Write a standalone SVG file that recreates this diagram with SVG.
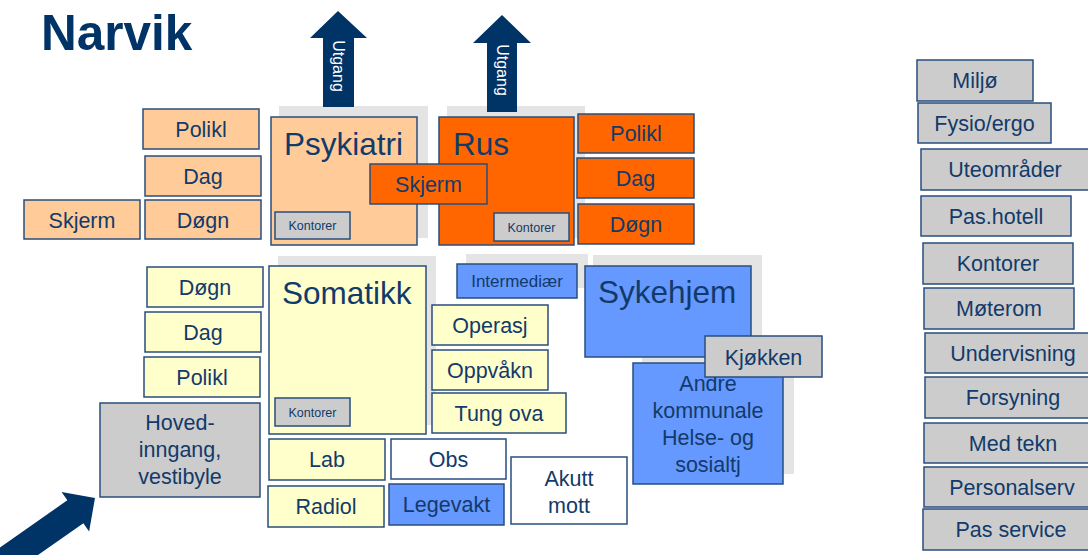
<svg xmlns="http://www.w3.org/2000/svg" width="1088" height="555" viewBox="0 0 1088 555">
  <style>
    .box { stroke: #284e7e; stroke-width: 1.5; }
    .shadow { fill: #e4e4e4; stroke: none; }
    .lo { fill: #ffcc99; }
    .or { fill: #ff6600; }
    .ye { fill: #ffffcc; }
    .bl { fill: #6699ff; }
    .gr { fill: #cccccc; }
    .wh { fill: #ffffff; }
    text { font-family: "Liberation Sans", Arial, sans-serif; fill: #123a6a; }
    .t { font-size: 21.5px; text-anchor: middle; }
    .big { font-size: 31.5px; }
    .small { font-size: 12.5px; text-anchor: middle; }
    .arrow { fill: #003366; }
    .exit { font-size: 16px; fill: #ffffff; text-anchor: middle; dominant-baseline: central; }
  </style>

  <!-- title -->
  <text x="41" y="50" style="font-size:49.5px;font-weight:bold;fill:#003366">Narvik</text>

  <!-- background blocks behind the main wards -->
  <g id="shadows">
    <rect class="shadow" x="279" y="106" width="149" height="132"/>
    <rect class="shadow" x="447" y="106" width="138" height="132"/>
    <rect class="shadow" x="278" y="256" width="158" height="169"/>
    <rect class="shadow" x="466" y="254" width="122" height="34"/>
    <rect class="shadow" x="593" y="255" width="169" height="90"/>
    <rect class="shadow" x="642" y="353" width="152" height="121"/>
  </g>

  <!-- exits and main entrance -->
  <g id="connectors">
    <g id="exit-psykiatri">
      <polygon class="arrow" points="338,11 367,38 354,38 354,107 323,107 323,38 310,38"/>
      <text class="exit" transform="translate(338,66) rotate(90)">Utgang</text>
    </g>
    <g id="exit-rus">
      <polygon class="arrow" points="502,15 531,43 517,43 517,112 487,112 487,43 473,43"/>
      <text class="exit" transform="translate(502,70) rotate(90)">Utgang</text>
    </g>
    <g id="entrance">
      <polygon class="arrow" transform="translate(95,498) rotate(-35)" points="0,0 -24,24 -24,14 -140,14 -140,-14 -24,-14 -24,-24"/>
    </g>
  </g>

  <!-- Psykiatri -->
  <g id="psykiatri">
    <rect class="box lo" x="271" y="117" width="146" height="128"/>
    <text class="big" x="284" y="155">Psykiatri</text>
  </g>
  <g id="psykiatri-kontorer">
    <rect class="box gr" x="275" y="212" width="75" height="27"/>
    <text class="small" x="312.5" y="230">Kontorer</text>
  </g>
  <g id="psyk-polikl">
    <rect class="box lo" x="143" y="109" width="116" height="40"/>
    <text class="t" x="201" y="137">Polikl</text>
  </g>
  <g id="psyk-dag">
    <rect class="box lo" x="145" y="156" width="116" height="40"/>
    <text class="t" x="203" y="184">Dag</text>
  </g>
  <g id="psyk-dogn">
    <rect class="box lo" x="145" y="200" width="116" height="39"/>
    <text class="t" x="203" y="228">Døgn</text>
  </g>
  <g id="psyk-skjerm">
    <rect class="box lo" x="24" y="200" width="116" height="39"/>
    <text class="t" x="82" y="228">Skjerm</text>
  </g>

  <!-- Rus -->
  <g id="rus">
    <rect class="box or" x="439" y="117" width="135" height="128"/>
    <text class="big" x="453" y="155">Rus</text>
  </g>
  <g id="rus-kontorer">
    <rect class="box gr" x="494" y="213" width="75" height="28"/>
    <text class="small" x="531.5" y="232">Kontorer</text>
  </g>
  <g id="skjerm-felles">
    <rect class="box or" x="370" y="164" width="117" height="40"/>
    <text class="t" x="428.5" y="192">Skjerm</text>
  </g>
  <g id="rus-polikl">
    <rect class="box or" x="578" y="114" width="116" height="39"/>
    <text class="t" x="636" y="141">Polikl</text>
  </g>
  <g id="rus-dag">
    <rect class="box or" x="577" y="158" width="117" height="40"/>
    <text class="t" x="635.5" y="186">Dag</text>
  </g>
  <g id="rus-dogn">
    <rect class="box or" x="578" y="204" width="116" height="40"/>
    <text class="t" x="636" y="232">Døgn</text>
  </g>

  <!-- Somatikk -->
  <g id="somatikk">
    <rect class="box ye" x="269" y="266" width="157" height="168"/>
    <text class="big" x="282" y="304">Somatikk</text>
  </g>
  <g id="somatikk-kontorer">
    <rect class="box gr" x="275" y="398" width="75" height="28"/>
    <text class="small" x="312.5" y="417">Kontorer</text>
  </g>
  <g id="som-dogn">
    <rect class="box ye" x="147" y="267" width="116" height="40"/>
    <text class="t" x="205" y="295">Døgn</text>
  </g>
  <g id="som-dag">
    <rect class="box ye" x="145" y="312" width="116" height="40"/>
    <text class="t" x="203" y="340">Dag</text>
  </g>
  <g id="som-polikl">
    <rect class="box ye" x="144" y="357" width="116" height="40"/>
    <text class="t" x="202" y="385">Polikl</text>
  </g>
  <g id="hovedinngang">
    <rect class="box gr" x="100" y="403" width="160" height="94"/>
    <text class="t" x="180" y="430">Hoved-</text>
    <text class="t" x="180" y="457">inngang,</text>
    <text class="t" x="180" y="484">vestibyle</text>
  </g>
  <g id="lab">
    <rect class="box ye" x="269" y="439" width="116" height="41"/>
    <text class="t" x="327" y="467">Lab</text>
  </g>
  <g id="radiol">
    <rect class="box ye" x="268" y="486" width="116" height="41"/>
    <text class="t" x="326" y="514">Radiol</text>
  </g>
  <g id="obs">
    <rect class="box wh" x="391" y="439" width="115" height="40"/>
    <text class="t" x="448.5" y="467">Obs</text>
  </g>
  <g id="legevakt">
    <rect class="box bl" x="389" y="484" width="115" height="41"/>
    <text class="t" x="446.5" y="512">Legevakt</text>
  </g>
  <g id="akutt-mott">
    <rect class="box wh" x="511" y="457" width="116" height="67"/>
    <text class="t" x="569" y="486">Akutt</text>
    <text class="t" x="569" y="513">mott</text>
  </g>
  <g id="operasj">
    <rect class="box ye" x="432" y="305" width="116" height="40"/>
    <text class="t" x="490" y="333">Operasj</text>
  </g>
  <g id="oppvakn">
    <rect class="box ye" x="432" y="350" width="116" height="40"/>
    <text class="t" x="490" y="378">Oppvåkn</text>
  </g>
  <g id="tung-ova">
    <rect class="box ye" x="432" y="393" width="134" height="40"/>
    <text class="t" x="499" y="421">Tung ova</text>
  </g>
  <g id="intermediaer">
    <rect class="box bl" x="457" y="264" width="120" height="34"/>
    <text x="517" y="287" style="font-size:17px;text-anchor:middle">Intermediær</text>
  </g>

  <!-- Kommune -->
  <g id="sykehjem">
    <rect class="box bl" x="585" y="266" width="166" height="91"/>
    <text class="big" x="598" y="303">Sykehjem</text>
  </g>
  <g id="andre-kommunale">
    <rect class="box bl" x="633" y="363" width="150" height="121"/>
    <text class="t" x="708" y="391">Andre</text>
    <text class="t" x="708" y="418">kommunale</text>
    <text class="t" x="708" y="445">Helse- og</text>
    <text class="t" x="708" y="472">sosialtj</text>
  </g>
  <g id="kjokken">
    <rect class="box gr" x="705" y="336" width="117" height="41"/>
    <text class="t" x="763.5" y="365">Kjøkken</text>
  </g>

  <!-- shared services -->
  <g id="miljo">
    <rect class="box gr" x="917" y="60" width="116" height="41"/>
    <text class="t" x="975" y="88">Miljø</text>
  </g>
  <g id="fysio-ergo">
    <rect class="box gr" x="918" y="103" width="133" height="40"/>
    <text class="t" x="984.5" y="131">Fysio/ergo</text>
  </g>
  <g id="uteomrader">
    <rect class="box gr" x="921" y="149" width="169" height="41"/>
    <text class="t" x="1005" y="177">Uteområder</text>
  </g>
  <g id="pas-hotell">
    <rect class="box gr" x="921" y="196" width="150" height="40"/>
    <text class="t" x="996" y="224">Pas.hotell</text>
  </g>
  <g id="kontorer">
    <rect class="box gr" x="923" y="243" width="150" height="41"/>
    <text class="t" x="998" y="271">Kontorer</text>
  </g>
  <g id="moterom">
    <rect class="box gr" x="924" y="288" width="150" height="41"/>
    <text class="t" x="999" y="316">Møterom</text>
  </g>
  <g id="undervisning">
    <rect class="box gr" x="925" y="333" width="176" height="40"/>
    <text class="t" x="1013" y="361">Undervisning</text>
  </g>
  <g id="forsyning">
    <rect class="box gr" x="925" y="377" width="176" height="41"/>
    <text class="t" x="1013" y="405">Forsyning</text>
  </g>
  <g id="med-tekn">
    <rect class="box gr" x="924" y="423" width="178" height="40"/>
    <text class="t" x="1013" y="451">Med tekn</text>
  </g>
  <g id="personalserv">
    <rect class="box gr" x="924" y="467" width="176" height="40"/>
    <text class="t" x="1012" y="495">Personalserv</text>
  </g>
  <g id="pas-service">
    <rect class="box gr" x="923" y="509" width="176" height="41"/>
    <text class="t" x="1011" y="537">Pas service</text>
  </g>
</svg>
